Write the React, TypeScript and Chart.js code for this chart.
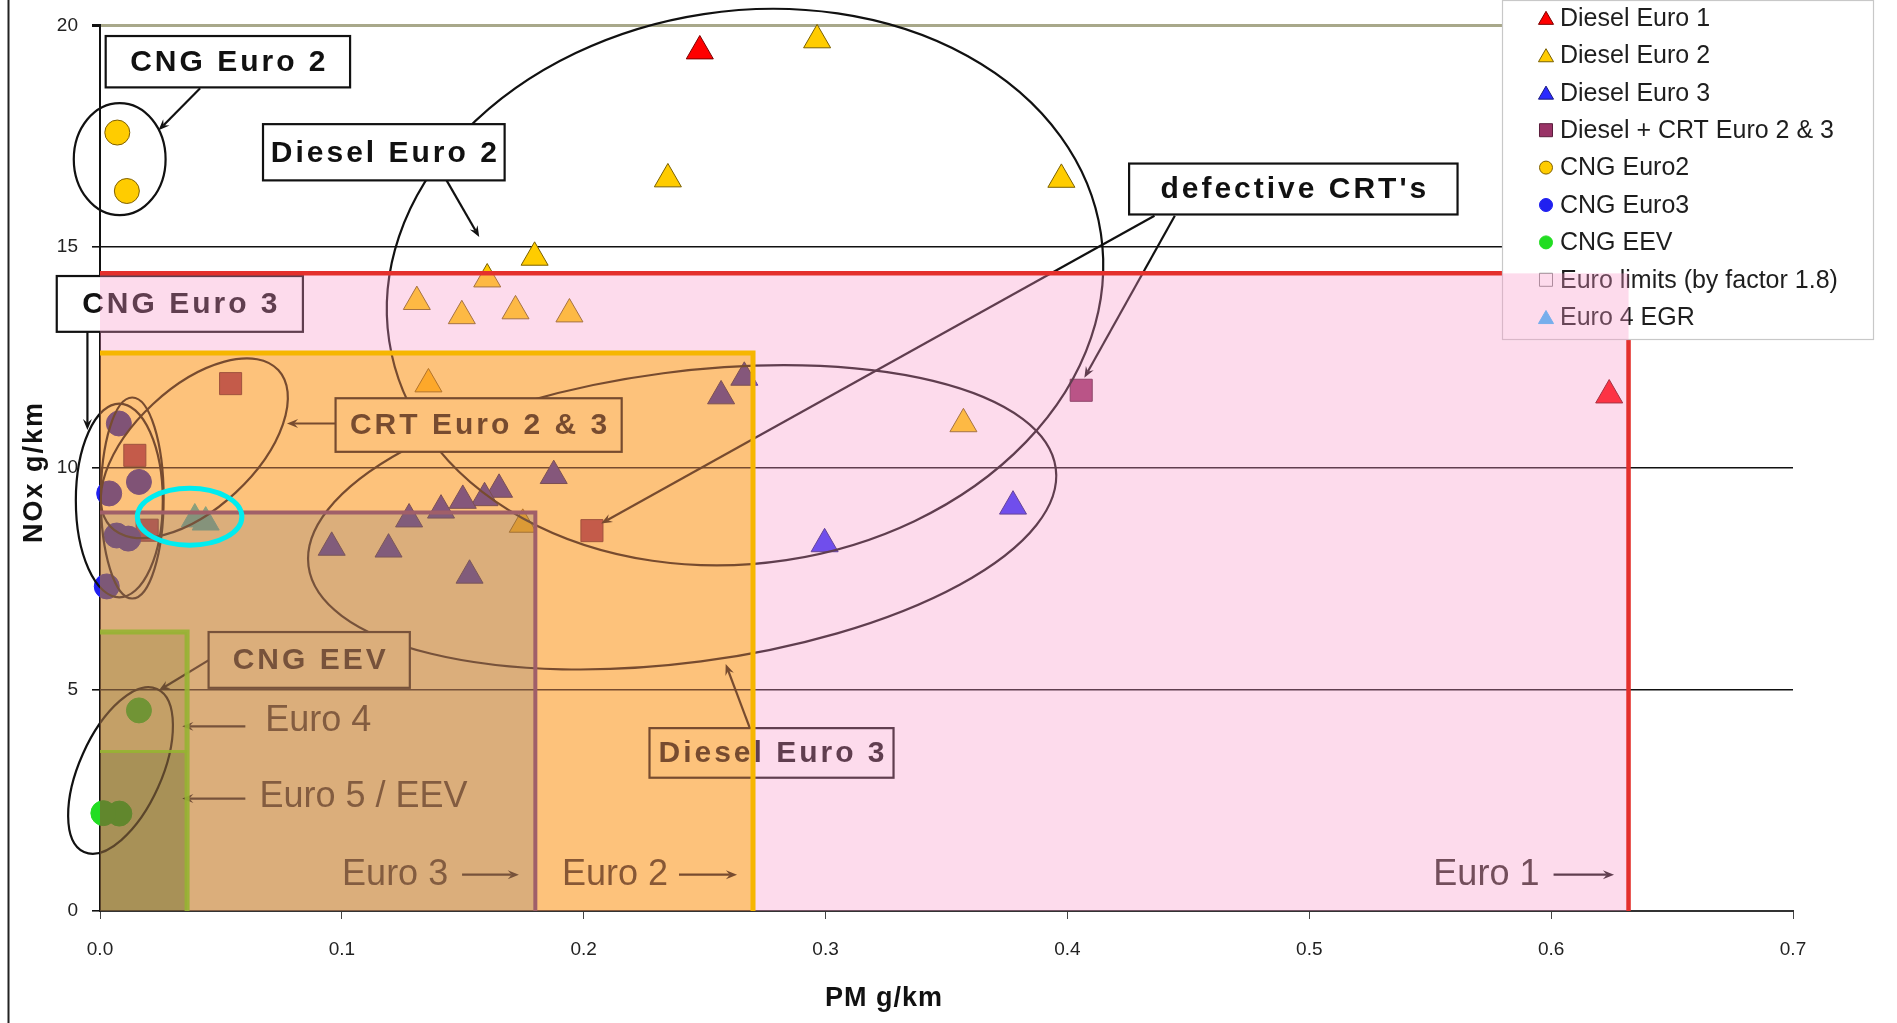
import React, { useEffect, useRef } from "react";
import { Chart, registerables } from "chart.js";

Chart.register(...registerables);

const W = 1897;
const H = 1023;

// ---------------- data (PM g/km , NOx g/km) ----------------
const dieselEuro1PM = [0.248, 0.624];
const dieselEuro1NOx = [19.42, 11.65];

const dieselEuro2PM = [0.2965, 0.2348, 0.3975, 0.1797, 0.1601, 0.131, 0.1496, 0.1718, 0.1941, 0.1358, 0.357, 0.1748];
const dieselEuro2NOx = [19.67, 16.53, 16.52, 14.76, 14.27, 13.76, 13.44, 13.55, 13.48, 11.9, 11.0, 8.73];

const dieselEuro3PM = [0.2664, 0.2568, 0.1876, 0.165, 0.159, 0.15, 0.141, 0.1278, 0.0958, 0.1193, 0.1528, 0.2996, 0.3775];
const dieselEuro3NOx = [12.05, 11.63, 9.83, 9.52, 9.33, 9.27, 9.05, 8.85, 8.21, 8.17, 7.58, 8.29, 9.14];

const dieselCrtPM = [0.054, 0.0144, 0.0195, 0.2034, 0.4057];
const dieselCrtNOx = [11.91, 10.29, 8.6, 8.59, 11.76];

const cngEuro2PM = [0.00715, 0.0111];
const cngEuro2NOx = [17.58, 16.26];

const cngEuro3PM = [0.0078, 0.0161, 0.0038, 0.0069, 0.0117, 0.0028];
const cngEuro3NOx = [11.01, 9.69, 9.43, 8.48, 8.41, 7.33];

const cngEevPM = [0.0161, 0.008, 0.0014];
const cngEevNOx = [4.53, 2.2, 2.21];

const euro4EgrPM = [0.0392, 0.0437];
const euro4EgrNOx = [8.85, 8.78];

// Euro limits (by factor 1.8)
const limitNames = ["Euro 1", "Euro 2", "Euro 3", "Euro 4", "Euro 5 / EEV"];
const limitPM = [0.632, 0.27, 0.18, 0.036, 0.036];
const limitNOx = [14.4, 12.6, 9.0, 6.3, 3.6];

// axis ticks
const xTicks = [0, 0.1, 0.2, 0.3, 0.4, 0.5, 0.6, 0.7];
const yTicks = [0, 5, 10, 15, 20];

const zip = (xs: number[], ys: number[]) => xs.map((x, i) => ({ x, y: ys[i] }));

// ---------------- annotation geometry (data units) ----------------
const ellipses = [
  { cx: 0.00814, cy: 16.98, rx: 0.01898, ry: 1.266, rot: 0 },
  { cx: 0.2667, cy: 14.09, rx: 0.1488, ry: 6.236, rot: -0.15 },
  { cx: 0.2407, cy: 8.89, rx: 0.1558, ry: 3.282, rot: -0.13 },
  { cx: 0.039, cy: 10.45, rx: 0.04744, ry: 1.368, rot: -0.75 },
  { cx: 0.01333, cy: 9.327, rx: 0.01298, ry: 2.27, rot: 0 },
  { cx: 0.00799, cy: 9.272, rx: 0.01798, ry: 2.188, rot: 0 },
  { cx: 0.00849, cy: 3.173, rx: 0.03695, ry: 0.93, rot: -1.15 },
];

const arrows = [
  { x1: 0.0414, y1: 18.58, x2: 0.0242, y2: 17.63 },
  { x1: 0.1433, y1: 16.5, x2: 0.1568, y2: 15.22 },
  { x1: 0.436, y1: 15.7, x2: 0.2072, y2: 8.75 },
  { x1: 0.4444, y1: 15.7, x2: 0.407, y2: 12.04 },
  { x1: -0.0052, y1: 13.08, x2: -0.0052, y2: 10.86 },
  { x1: 0.0972, y1: 11.01, x2: 0.0773, y2: 11.01 },
  { x1: 0.0448, y1: 5.66, x2: 0.0243, y2: 4.98 },
  { x1: 0.2687, y1: 4.13, x2: 0.2587, y2: 5.58 },
  { x1: 0.0601, y1: 4.17, x2: 0.034, y2: 4.17 },
  { x1: 0.0601, y1: 2.54, x2: 0.034, y2: 2.54 },
  { x1: 0.1497, y1: 0.82, x2: 0.1732, y2: 0.82 },
  { x1: 0.2394, y1: 0.82, x2: 0.2634, y2: 0.82 },
  { x1: 0.601, y1: 0.82, x2: 0.626, y2: 0.82 },
];

const boxes = [
  { text: "CNG Euro 2", x1: 0.00235, y1: 19.76, x2: 0.1034, y2: 18.6 },
  { text: "Diesel Euro 2", x1: 0.0674, y1: 17.77, x2: 0.1673, y2: 16.5 },
  { text: "defective CRT's", x1: 0.4255, y1: 16.88, x2: 0.5613, y2: 15.73 },
  { text: "CNG Euro 3", x1: -0.01788, y1: 14.34, x2: 0.0839, y2: 13.08 },
  { text: "CRT Euro 2 & 3", x1: 0.0974, y1: 11.58, x2: 0.2157, y2: 10.37 },
  { text: "CNG EEV", x1: 0.0449, y1: 6.3, x2: 0.1281, y2: 5.04 },
  { text: "Diesel Euro 3", x1: 0.2272, y1: 4.13, x2: 0.3281, y2: 3.01 },
];

const labels = [
  { text: "Euro 4", x: 0.0683, y: 4.3 },
  { text: "Euro 5 / EEV", x: 0.0659, y: 2.57 },
  { text: "Euro 3", x: 0.1001, y: 0.82 },
  { text: "Euro 2", x: 0.191, y: 0.82 },
  { text: "Euro 1", x: 0.5513, y: 0.82 },
];

const highlight = { cx: 0.03705, cy: 8.903, rx: 0.02162, ry: 0.6428 };

const regionStyles = [
  { alpha: "rgba(250,150,200,0.34)", multiply: "", border: "rgb(228,48,44)", bw: 4.5, topOnly: false },
  { alpha: "rgba(255,190,60,0.15)", multiply: "rgb(255,228,145)", border: "rgb(246,182,0)", bw: 5, topOnly: false },
  { alpha: "rgba(200,170,130,0.15)", multiply: "rgb(224,231,255)", border: "rgb(160,95,105)", bw: 4, topOnly: false },
  { alpha: "", multiply: "rgb(228,235,214)", border: "rgba(150,178,50,0.9)", bw: 5, topOnly: false },
  { alpha: "", multiply: "rgb(219,232,216)", border: "rgba(150,178,50,0.9)", bw: 3, topOnly: true },
];

const FONT = '"Liberation Sans", Arial, sans-serif';

function drawArrow(ctx: CanvasRenderingContext2D, x1: number, y1: number, x2: number, y2: number) {
  const head = 12;
  const a = Math.atan2(y2 - y1, x2 - x1);
  ctx.beginPath();
  ctx.moveTo(x1, y1);
  ctx.lineTo(x2 - Math.cos(a) * head * 0.6, y2 - Math.sin(a) * head * 0.6);
  ctx.stroke();
  ctx.beginPath();
  ctx.moveTo(x2, y2);
  ctx.lineTo(x2 - head * Math.cos(a - 0.38), y2 - head * Math.sin(a - 0.38));
  ctx.lineTo(x2 - head * 0.6 * Math.cos(a), y2 - head * 0.6 * Math.sin(a));
  ctx.lineTo(x2 - head * Math.cos(a + 0.38), y2 - head * Math.sin(a + 0.38));
  ctx.closePath();
  ctx.fill();
}

function drawMarker(ctx: CanvasRenderingContext2D, style: string, x: number, y: number, r: number, fill: string, stroke: string) {
  ctx.beginPath();
  if (style === "triangle") {
    ctx.moveTo(x, y - r);
    ctx.lineTo(x + r * 0.866, y + r * 0.5);
    ctx.lineTo(x - r * 0.866, y + r * 0.5);
    ctx.closePath();
  } else if (style === "rect") {
    const s = r * 0.7071;
    ctx.rect(x - s, y - s, 2 * s, 2 * s);
  } else {
    ctx.arc(x, y, r, 0, Math.PI * 2);
  }
  ctx.fillStyle = fill;
  ctx.fill();
  ctx.lineWidth = 1;
  ctx.strokeStyle = stroke;
  ctx.stroke();
}

const annotationPlugin = {
  id: "annotations",
  beforeDraw(chart: any) {
    const ctx = chart.ctx as CanvasRenderingContext2D;
    ctx.save();
    ctx.fillStyle = "#ffffff";
    ctx.fillRect(0, 0, chart.width, chart.height);
    ctx.strokeStyle = "#222";
    ctx.lineWidth = 2;
    ctx.beginPath();
    ctx.moveTo(8.5, 0);
    ctx.lineTo(8.5, chart.height);
    ctx.stroke();
    ctx.restore();
  },
  afterDatasetsDraw(chart: any) {
    const ctx = chart.ctx as CanvasRenderingContext2D;
    const xs = chart.scales.x;
    const ys = chart.scales.y;
    const X = (v: number) => xs.getPixelForValue(v);
    const Y = (v: number) => ys.getPixelForValue(v);
    const pxPM = X(1) - X(0);
    const pxNOx = Y(0) - Y(1);
    ctx.save();

    // ellipses
    ctx.strokeStyle = "#111";
    ctx.lineWidth = 2.2;
    for (const e of ellipses) {
      ctx.beginPath();
      ctx.ellipse(X(e.cx), Y(e.cy), e.rx * pxPM, e.ry * pxNOx, e.rot, 0, Math.PI * 2);
      ctx.stroke();
    }
    // arrows
    ctx.fillStyle = "#111";
    ctx.lineWidth = 2.2;
    for (const a of arrows) drawArrow(ctx, X(a.x1), Y(a.y1), X(a.x2), Y(a.y2));

    // boxes
    ctx.font = `bold 30px ${FONT}`;
    (ctx as any).letterSpacing = "3px";
    ctx.textAlign = "center";
    ctx.textBaseline = "middle";
    for (const b of boxes) {
      const x1 = X(b.x1), x2 = X(b.x2), y1 = Y(b.y1), y2 = Y(b.y2);
      ctx.fillStyle = "#fff";
      ctx.fillRect(x1, y1, x2 - x1, y2 - y1);
      ctx.lineWidth = 2.2;
      ctx.strokeStyle = "#111";
      ctx.strokeRect(x1, y1, x2 - x1, y2 - y1);
      ctx.fillStyle = "#111";
      ctx.fillText(b.text, (x1 + x2) / 2 + 1.5, (y1 + y2) / 2 + 1);
    }
    (ctx as any).letterSpacing = "0px";

    // plain labels
    ctx.font = `36px ${FONT}`;
    ctx.fillStyle = "#2e2a24";
    ctx.textAlign = "left";
    for (const l of labels) ctx.fillText(l.text, X(l.x), Y(l.y));

    // limit overlays
    for (let i = 0; i < limitPM.length; i++) {
      const st = regionStyles[i];
      const x0 = X(0), x1 = X(limitPM[i]), y0 = Y(0), y1 = Y(limitNOx[i]);
      if (st.multiply) {
        ctx.globalCompositeOperation = "multiply";
        ctx.fillStyle = st.multiply;
        ctx.fillRect(x0, y1, x1 - x0, y0 - y1);
        ctx.globalCompositeOperation = "source-over";
      }
      if (st.alpha) {
        ctx.fillStyle = st.alpha;
        ctx.fillRect(x0, y1, x1 - x0, y0 - y1);
      }
    }
    for (let i = 0; i < limitPM.length; i++) {
      const st = regionStyles[i];
      const x0 = X(0), x1 = X(limitPM[i]), y0 = Y(0), y1 = Y(limitNOx[i]);
      ctx.strokeStyle = st.border;
      ctx.lineWidth = st.bw;
      ctx.beginPath();
      ctx.moveTo(x0, y1);
      ctx.lineTo(x1, y1);
      if (!st.topOnly) ctx.lineTo(x1, y0);
      ctx.stroke();
    }

    // highlight ellipse
    ctx.strokeStyle = "rgb(0,236,240)";
    ctx.lineWidth = 5;
    ctx.beginPath();
    ctx.ellipse(X(highlight.cx), Y(highlight.cy), highlight.rx * pxPM, highlight.ry * pxNOx, 0, 0, Math.PI * 2);
    ctx.stroke();

    // axis titles
    ctx.fillStyle = "#111";
    ctx.font = `bold 27px ${FONT}`;
    (ctx as any).letterSpacing = "1px";
    ctx.textAlign = "center";
    ctx.textBaseline = "middle";
    ctx.fillText("PM g/km", 884, 999);
    ctx.save();
    ctx.translate(35, 472);
    ctx.rotate(-Math.PI / 2);
    (ctx as any).letterSpacing = "2px";
    ctx.fillText("NOx g/km", 0, 0);
    ctx.restore();
    (ctx as any).letterSpacing = "0px";

    // legend
    const lx = 1502, ly = 0, lw = 371, lh = 339;
    ctx.fillStyle = "#fff";
    ctx.fillRect(lx, ly, lw, lh);
    ctx.strokeStyle = "#c8c8c8";
    ctx.lineWidth = 1.2;
    ctx.strokeRect(lx + 0.5, ly + 0.5, lw, lh);
    ctx.font = `25px ${FONT}`;
    ctx.textAlign = "left";
    ctx.textBaseline = "middle";
    const ds = chart.data.datasets;
    for (let i = 0; i < ds.length; i++) {
      const d = ds[i];
      const cy = 18 + i * 37.4;
      const style = d.pointStyle;
      const r = style === "triangle" ? 8.7 : style === "rect" ? 9.2 : 6.5;
      drawMarker(ctx, style, 1546, cy + (style === "triangle" ? 2 : 0), r, d.backgroundColor, d.borderColor);
      ctx.fillStyle = "#1e1e1e";
      ctx.fillText(d.label, 1560, cy + 1);
    }
    // Euro 1 limit area showing through the legend corner
    const px1 = X(limitPM[0]);
    const py1 = Y(limitNOx[0]);
    if (px1 > lx && py1 < ly + lh) {
      ctx.fillStyle = regionStyles[0].alpha;
      ctx.fillRect(lx, py1, px1 - lx, ly + lh - py1 + 1);
    }

    ctx.restore();
  },
};

export default function App() {
  const ref = useRef<HTMLCanvasElement | null>(null);

  useEffect(() => {
    const canvas = ref.current;
    if (!canvas) return;
    const tri = 15.6;
    const circ = 12.5;
    const sq = 15.6;
    const chart = new Chart(canvas, {
      type: "scatter",
      data: {
        datasets: [
          { label: "Diesel Euro 1", data: zip(dieselEuro1PM, dieselEuro1NOx), pointStyle: "triangle", pointRadius: tri, backgroundColor: "#ff0000", borderColor: "#7a0000", borderWidth: 1, clip: false, order: 1 },
          { label: "Diesel Euro 2", data: zip(dieselEuro2PM, dieselEuro2NOx), pointStyle: "triangle", pointRadius: tri, backgroundColor: "#ffcc00", borderColor: "#7a6000", borderWidth: 1, clip: false, order: 1 },
          { label: "Diesel Euro 3", data: zip(dieselEuro3PM, dieselEuro3NOx), pointStyle: "triangle", pointRadius: tri, backgroundColor: "#2a2aff", borderColor: "#1a1a80", borderWidth: 1, clip: false, order: 1 },
          { label: "Diesel + CRT Euro 2 & 3", data: zip(dieselCrtPM, dieselCrtNOx), pointStyle: "rect", pointRadius: sq, backgroundColor: "#993366", borderColor: "#5a1e3c", borderWidth: 1, clip: false, order: 3 },
          { label: "CNG Euro2", data: zip(cngEuro2PM, cngEuro2NOx), pointStyle: "circle", pointRadius: circ, backgroundColor: "#ffcc00", borderColor: "#806000", borderWidth: 1, clip: false, order: 1 },
          { label: "CNG Euro3", data: zip(cngEuro3PM, cngEuro3NOx), pointStyle: "circle", pointRadius: circ, backgroundColor: "#2020f0", borderColor: "#2020f0", borderWidth: 1, clip: false, order: 0 },
          { label: "CNG EEV", data: zip(cngEevPM, cngEevNOx), pointStyle: "circle", pointRadius: circ, backgroundColor: "#22dd22", borderColor: "#22dd22", borderWidth: 1, clip: false, order: 1 },
          { label: "Euro limits (by factor 1.8)", data: [], pointStyle: "rect", pointRadius: sq, backgroundColor: "#ffffff", borderColor: "#888888", borderWidth: 1, clip: false, order: 1 },
          { label: "Euro 4 EGR", data: zip(euro4EgrPM, euro4EgrNOx), pointStyle: "triangle", pointRadius: tri, backgroundColor: "#33bbff", borderColor: "#33bbff", borderWidth: 1, clip: false, order: 1 },
        ] as any,
      },
      options: {
        responsive: false,
        animation: false,
        events: [],
        layout: { padding: { top: 25, right: 104, left: 0, bottom: 0 } },
        plugins: { legend: { display: false }, tooltip: { enabled: false } },
        scales: {
          x: {
            type: "linear",
            min: 0,
            max: 0.7,
            afterFit: (s: any) => { s.height = 112; },
            afterBuildTicks: (s: any) => { s.ticks = xTicks.map((v) => ({ value: v })); },
            ticks: {
              callback: (v: any) => Number(v).toFixed(1),
              font: { family: FONT, size: 19 },
              color: "#222",
              padding: 19,
              maxRotation: 0,
            },
            grid: { drawOnChartArea: false, drawTicks: true, tickLength: 8, color: "#444", tickColor: "#444" },
            border: { display: true, color: "#333", width: 2 },
          },
          y: {
            type: "linear",
            min: 0,
            max: 20,
            afterFit: (s: any) => { s.width = 100; },
            afterBuildTicks: (s: any) => { s.ticks = yTicks.map((v) => ({ value: v })); },
            ticks: {
              font: { family: FONT, size: 19 },
              color: "#222",
              padding: 14,
            },
            grid: {
              drawOnChartArea: true,
              drawTicks: true,
              tickLength: 8,
              color: (c: any) => (c.tick && c.tick.value === 20 ? "rgb(168,168,138)" : "#111"),
              lineWidth: (c: any) => (c.tick && c.tick.value === 20 ? 3 : 1.6),
              tickColor: "#111",
            },
            border: { display: true, color: "#111", width: 2 },
          },
        },
      } as any,
      plugins: [annotationPlugin as any],
    });
    return () => chart.destroy();
  }, []);

  return (
    <div style={{ position: "fixed", left: 0, top: 0, width: W, height: H, background: "#fff" }}>
      <canvas ref={ref} width={W} height={H} style={{ width: W, height: H, display: "block" }} />
    </div>
  );
}
